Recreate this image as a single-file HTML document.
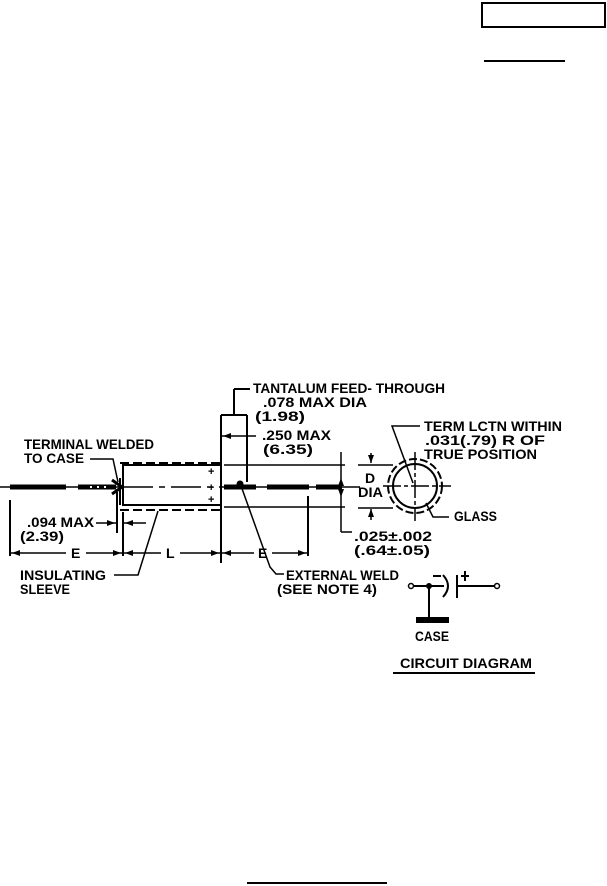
<!DOCTYPE html>
<html><head><style>
html,body{margin:0;padding:0;background:#fff;}
svg{display:block;}
text{font-family:"Liberation Sans",sans-serif;font-weight:bold;font-size:14px;fill:#000;}
</style></head><body>
<svg width="607" height="886" viewBox="0 0 607 886" xmlns="http://www.w3.org/2000/svg">
<g fill="none" stroke="#000" stroke-width="2">
<rect x="482" y="3" width="123" height="24"/>
<line x1="484" y1="61" x2="565" y2="61"/>
<line x1="247" y1="883" x2="387" y2="883"/>

<line x1="0" y1="487" x2="123" y2="487" stroke-width="1.5"/>
<line x1="123" y1="487" x2="221" y2="487" stroke-width="1.5" stroke-dasharray="30,6,6,6"/>
<line x1="221" y1="487" x2="360" y2="487" stroke-width="1.5"/>
<g stroke-width="5">
<line x1="10" y1="487" x2="66" y2="487"/>
<line x1="78" y1="487" x2="116" y2="487"/>
<line x1="224" y1="487" x2="256" y2="487"/>
<line x1="267" y1="487" x2="309" y2="487"/>
<line x1="316" y1="487" x2="342" y2="487"/>
</g>
<g stroke="#fff" stroke-width="2"><line x1="90" y1="487" x2="92" y2="487"/><line x1="97" y1="487" x2="99" y2="487"/><line x1="104" y1="487" x2="106" y2="487"/></g>
<path d="M112 480 L122 487 L112 494" stroke-width="3"/>
<rect x="123" y="465" width="98" height="40"/>
<line x1="120" y1="478" x2="120" y2="505"/>
<line x1="120" y1="463" x2="224" y2="463" stroke-dasharray="9,4"/>
<line x1="120" y1="510" x2="224" y2="510" stroke-dasharray="9,4"/>
<line x1="224" y1="465" x2="345" y2="465" stroke-width="1.5"/>
<line x1="224" y1="507" x2="345" y2="507" stroke-width="1.5"/>
<line x1="358" y1="465" x2="393" y2="465" stroke-width="1.5"/>
<line x1="358" y1="508" x2="393" y2="508" stroke-width="1.5"/>
<line x1="10" y1="500" x2="10" y2="556"/>
<line x1="117" y1="492" x2="117" y2="533"/>
<line x1="123" y1="512" x2="123" y2="556"/>
<line x1="221" y1="415" x2="221" y2="563"/>
<line x1="247" y1="415" x2="247" y2="482"/>
<line x1="221" y1="415" x2="247" y2="415"/>
<line x1="234" y1="415" x2="234" y2="389"/>
<line x1="234" y1="389" x2="250" y2="389"/>
<line x1="308" y1="496" x2="308" y2="556"/>
<line x1="10" y1="553" x2="66" y2="553" stroke-width="1.5"/>
<line x1="86" y1="553" x2="123" y2="553" stroke-width="1.5"/>
<line x1="123" y1="553" x2="161" y2="553" stroke-width="1.5"/>
<line x1="180" y1="553" x2="221" y2="553" stroke-width="1.5"/>
<line x1="221" y1="553" x2="254" y2="553" stroke-width="1.5"/>
<line x1="272" y1="553" x2="308" y2="553" stroke-width="1.5"/>
<line x1="96" y1="523" x2="117" y2="523" stroke-width="1.5"/>
<line x1="123" y1="523" x2="146" y2="523" stroke-width="1.5"/>
<line x1="221" y1="436" x2="247" y2="436" stroke-width="1.5"/>
<line x1="247" y1="436" x2="256" y2="436" stroke-width="1.5"/>
<polyline points="90,459 113,459 118,482" stroke-width="1.5"/>
<polyline points="114,575 138,575 158,511" stroke-width="1.5"/>
<polyline points="240,483 270,567 276,574 284,574" stroke-width="1.5"/>
<line x1="341" y1="452" x2="341" y2="532" stroke-width="1.5"/>
<line x1="341" y1="532" x2="352" y2="532" stroke-width="1.5"/>
<line x1="371" y1="453" x2="371" y2="463" stroke-width="1.5"/>
<line x1="371" y1="509" x2="371" y2="520" stroke-width="1.5"/>
<circle cx="415" cy="486" r="22"/>
<circle cx="415" cy="486" r="27" stroke-dasharray="8,3"/>
<line x1="383" y1="486" x2="451" y2="486" stroke-width="1.5" stroke-dasharray="18,3,4,3"/>
<line x1="415" y1="452" x2="415" y2="521" stroke-width="1.5" stroke-dasharray="18,3,4,3"/>
<polyline points="420,426 392,426 413,483" stroke-width="1.5"/>
<polyline points="449,517 433,517 426,503" stroke-width="1.5"/>
<circle cx="411" cy="586" r="2.5" stroke-width="1.5"/>
<line x1="413" y1="586" x2="444" y2="586"/>
<path d="M443 575 Q453 586 443 597"/>
<line x1="457" y1="575" x2="457" y2="598"/>
<line x1="457" y1="586" x2="494" y2="586"/>
<circle cx="497" cy="586" r="2.5" stroke-width="1.5"/>
<line x1="429" y1="586" x2="429" y2="617"/>
<line x1="433" y1="576" x2="441" y2="576"/>
<line x1="465" y1="571" x2="465" y2="581"/>
<line x1="461" y1="576" x2="469" y2="576"/>
<line x1="393" y1="673" x2="535" y2="673"/>
</g>
<g fill="#000">
<circle cx="429" cy="586" r="3"/>
<circle cx="240" cy="484" r="3.5"/>
<rect x="416" y="617" width="33" height="6"/>
<path d="M371 463 l-3 -8 h6z M371 509 l-3 8 h6z M341 478 l-3 8 h6z M341 497 l-3 -8 h6z"/>
<path d="M12 553 l8 -3 v6z M121 553 l-8 -3 v6z M125 553 l8 -3 v6z M219 553 l-8 -3 v6z M223 553 l8 -3 v6z M306 553 l-8 -3 v6z M115 523 l-8 -3 v6z M125 523 l8 -3 v6z M223 436 l8 -3 v6z"/>
</g>
<g style="font-size:11px">
<text x="208" y="475" style="font-size:11px">+</text>
<text x="208" y="491" style="font-size:11px">+</text>
<text x="208" y="503" style="font-size:11px">+</text>
</g>
<text x="253" y="393" textLength="192" lengthAdjust="spacingAndGlyphs">TANTALUM FEED- THROUGH</text>
<text x="263" y="407" textLength="104" lengthAdjust="spacingAndGlyphs">.078 MAX DIA</text>
<text x="255" y="421" textLength="50" lengthAdjust="spacingAndGlyphs">(1.98)</text>
<text x="262" y="440" textLength="69" lengthAdjust="spacingAndGlyphs">.250 MAX</text>
<text x="263" y="454" textLength="50" lengthAdjust="spacingAndGlyphs">(6.35)</text>
<text x="24" y="449" textLength="130" lengthAdjust="spacingAndGlyphs">TERMINAL WELDED</text>
<text x="24" y="463" textLength="60" lengthAdjust="spacingAndGlyphs">TO CASE</text>
<text x="27" y="527" textLength="67" lengthAdjust="spacingAndGlyphs">.094 MAX</text>
<text x="20" y="541" textLength="44" lengthAdjust="spacingAndGlyphs">(2.39)</text>
<text x="71" y="558">E</text>
<text x="166" y="558">L</text>
<text x="258" y="558">E</text>
<text x="20" y="580" textLength="86" lengthAdjust="spacingAndGlyphs">INSULATING</text>
<text x="20" y="594" textLength="50" lengthAdjust="spacingAndGlyphs">SLEEVE</text>
<text x="286" y="580" textLength="113" lengthAdjust="spacingAndGlyphs">EXTERNAL WELD</text>
<text x="277" y="594" textLength="100" lengthAdjust="spacingAndGlyphs">(SEE NOTE 4)</text>
<text x="424" y="431" textLength="138" lengthAdjust="spacingAndGlyphs">TERM LCTN WITHIN</text>
<text x="425" y="445" textLength="120" lengthAdjust="spacingAndGlyphs">.031(.79) R OF</text>
<text x="424" y="459" textLength="113" lengthAdjust="spacingAndGlyphs">TRUE POSITION</text>
<text x="365" y="483">D</text>
<text x="358" y="497" textLength="25" lengthAdjust="spacingAndGlyphs">DIA</text>
<text x="454" y="521" textLength="43" lengthAdjust="spacingAndGlyphs">GLASS</text>
<text x="354" y="541" textLength="78" lengthAdjust="spacingAndGlyphs">.025±.002</text>
<text x="354" y="555" textLength="76" lengthAdjust="spacingAndGlyphs">(.64±.05)</text>
<text x="415" y="641" textLength="34" lengthAdjust="spacingAndGlyphs">CASE</text>
<text x="400" y="668" textLength="132" lengthAdjust="spacingAndGlyphs">CIRCUIT DIAGRAM</text>
</svg>
</body></html>
